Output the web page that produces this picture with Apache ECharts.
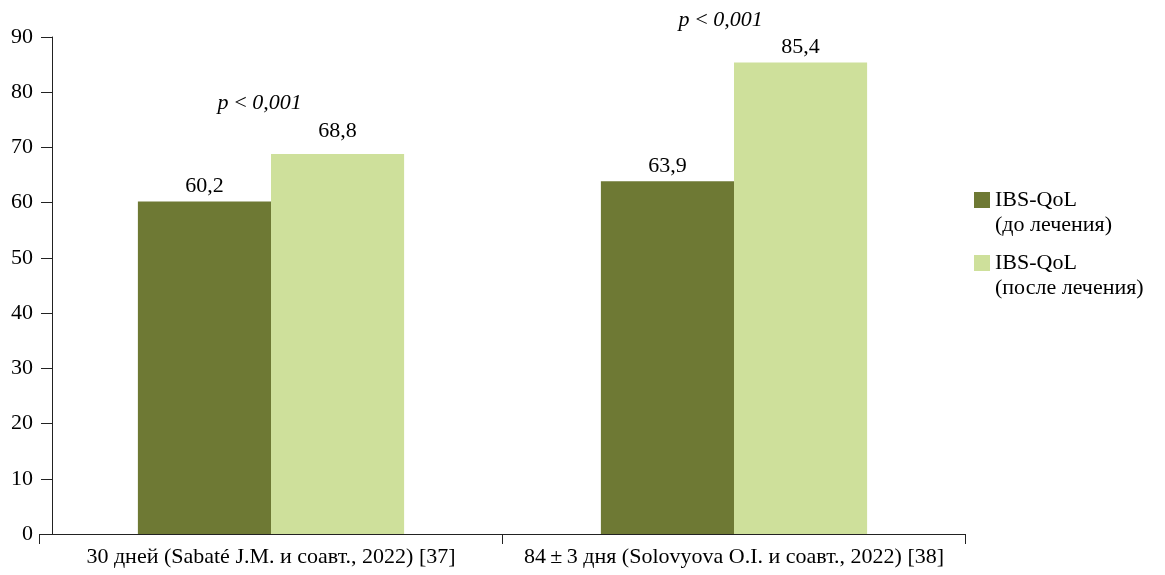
<!DOCTYPE html>
<html><head><meta charset="utf-8">
<script src="https://cdn.jsdelivr.net/npm/echarts@6/dist/echarts.min.js"></script>
<style>html,body{margin:0;padding:0;background:#fff}#c{width:1165px;height:575px}</style>
</head><body><div id="c"></div>
<script>
const categories = ['30 дней (Sabaté J.M. и соавт., 2022) [37]', '84\u2009±\u20093 дня (Solovyova O.I. и соавт., 2022) [38]'];
const seriesNames = ['IBS-QoL\n(до лечения)', 'IBS-QoL\n(после лечения)'];
const before = [60.2, 63.9];
const after = [68.8, 85.4];
const pLabels = ['p\u2009<\u20090,001', 'p\u2009<\u20090,001'];
const yTicks = [0, 10, 20, 30, 40, 50, 60, 70, 80, 90];

const FONT = 'Liberation Serif';
const FS = 22;
const fmt = v => String(v).replace('.', ',');
const chart = echarts.init(document.getElementById('c'), null, {renderer: 'canvas'});
const legendBase = {left: 974, orient: 'vertical', icon: 'rect', itemWidth: 16, itemHeight: 16, itemGap: 0, padding: 0,
  textStyle: {fontFamily: FONT, fontSize: FS, color: '#000', lineHeight: 25},
  formatter: n => ' \n' + n};
chart.setOption({
  animation: false,
  textStyle: {fontFamily: FONT},
  grid: {left: 39.5, right: 1165 - 965.5, top: 37, bottom: 41, containLabel: false},
  legend: [
    Object.assign({data: [seriesNames[0]], top: 162.5}, legendBase),
    Object.assign({data: [seriesNames[1]], top: 225.5}, legendBase)
  ],
  xAxis: {
    type: 'category', data: categories,
    axisLine: {lineStyle: {color: '#222', width: 1}},
    axisTick: {show: true, length: 10, lineStyle: {color: '#222'}},
    axisLabel: {fontFamily: FONT, fontSize: FS, color: '#000', margin: 12, interval: 0}
  },
  yAxis: {
    type: 'value', min: 0, max: 90, interval: 10, offset: -12.5,
    axisLine: {show: true, lineStyle: {color: '#222', width: 1}},
    axisTick: {show: true, length: 11, lineStyle: {color: '#222'}},
    splitLine: {show: false},
    axisLabel: {fontFamily: FONT, fontSize: FS, color: '#000', margin: 19,
      formatter: v => yTicks.includes(v) ? String(v) : ''}
  },
  series: [
    {name: seriesNames[0], type: 'bar', data: before, barGap: '0%', barCategoryGap: '42.5%',
     itemStyle: {color: '#6e7934'},
     label: {show: true, position: 'top', distance: 4, fontFamily: FONT, fontSize: FS, color: '#000', formatter: p => fmt(p.value)}},
    {name: seriesNames[1], type: 'bar', data: after.map((v, i) => ({value: v, label: i === 0 ? {offset: [0, -8]} : {}})), barGap: '0%', barCategoryGap: '42.5%',
     itemStyle: {color: '#cee09b'},
     label: {show: true, position: 'top', distance: 4, fontFamily: FONT, fontSize: FS, color: '#000', formatter: p => fmt(p.value)},
     markPoint: {
       symbol: 'circle', symbolSize: 1, silent: true, itemStyle: {color: 'rgba(0,0,0,0)'},
       data: after.map((v, i) => ({coord: [i, v], value: pLabels[i],
         label: {show: true, position: 'inside', formatter: pLabels[i], fontFamily: FONT, fontStyle: 'italic', fontSize: FS, color: '#000',
           offset: i === 0 ? [-78, -51] : [-80, -42]}}))
     }}
  ]
});
</script></body></html>
